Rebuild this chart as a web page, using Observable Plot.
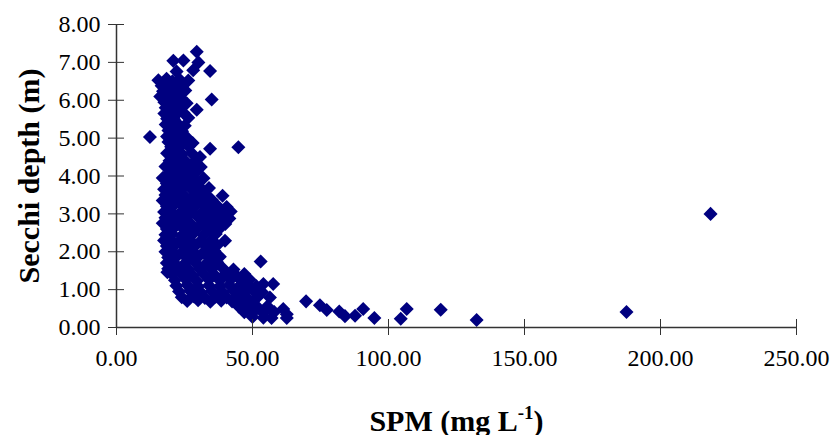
<!DOCTYPE html>
<html><head><meta charset="utf-8">
<script src="https://cdn.jsdelivr.net/npm/d3@7"></script>
<script src="https://cdn.jsdelivr.net/npm/@observablehq/plot@0.6"></script>
<style>body{margin:0;background:#fff} svg{display:block}</style>
</head><body><div id="chart"></div>
<script>
// [SPM (mg/L), Secchi depth (m)]
const clusterUpper = [
[29.5,7.28],[20.9,7.04],[24.6,7.05],[30.1,7.0],
[22.1,6.76],[28.2,6.79],[34.4,6.77],
[15.4,6.53],[18.4,6.57],[20.6,6.5],[23.2,6.55],[26.4,6.52],
[16.6,6.38],[18.1,6.42],[21.6,6.36],[24.1,6.4],
[17.1,6.24],[19.6,6.27],[22.6,6.22],[25.3,6.26],
[16.1,6.1],[18.6,6.08],[21.1,6.12],[23.6,6.06],
[35.0,6.02],
[17.6,5.95],[20.1,5.93],[22.1,5.97],[25.8,5.92],
[18.1,5.8],[20.6,5.82],[23.1,5.78],
[29.5,5.75],
[17.6,5.65],[19.6,5.66],[22.1,5.63],[24.6,5.67],
[18.6,5.51],[21.1,5.5],[26.4,5.54],
[18.1,5.36],[20.1,5.34],[22.6,5.37],[25.1,5.33],
[19.1,5.2],[21.6,5.22],[24.1,5.18],
[12.3,5.03],[18.6,5.04],[20.6,5.02],[23.1,5.05],[26.1,5.0],
[19.1,4.9],[22.1,4.88],[24.6,4.91],[28.0,4.87],
[44.8,4.76],[20.1,4.77],[23.1,4.75],[26.6,4.78],[34.4,4.72],
[18.6,4.6],[21.1,4.62],[24.1,4.58],[27.6,4.61],
[30.7,4.5]
];
const clusterMiddle = [
[19.5,4.4],[22.0,4.42],[25.5,4.38],[29.0,4.4],
[18.0,4.25],[21.0,4.27],[24.0,4.23],[27.0,4.26],[31.0,4.24],
[19.5,4.1],[23.0,4.12],[26.0,4.08],[29.5,4.11],
[17.0,3.95],[20.5,3.97],[24.5,3.93],[28.0,3.96],[32.0,3.94],
[18.5,3.8],[22.0,3.82],[26.0,3.78],[30.0,3.81],
[17.5,3.65],[20.0,3.67],[23.5,3.63],[27.5,3.66],[31.5,3.64],[34.0,3.68],
[18.0,3.5],[21.5,3.52],[25.0,3.48],[29.0,3.51],[33.0,3.49],[39.0,3.48],
[17.0,3.35],[19.5,3.37],[23.0,3.33],[27.0,3.36],[31.0,3.34],[35.0,3.37],
[18.5,3.2],[21.0,3.22],[25.0,3.18],[29.0,3.21],[33.0,3.19],[37.0,3.22],[40.5,3.18],
[17.5,3.05],[20.0,3.07],[23.5,3.03],[27.5,3.06],[31.5,3.04],[35.5,3.07],[39.0,3.03],[42.0,3.06],
[18.0,2.9],[21.5,2.92],[25.5,2.88],[30.0,2.91],[34.0,2.89],[38.0,2.92],[41.5,2.88],
[17.0,2.75],[19.5,2.77],[23.0,2.73],[27.0,2.76],[32.0,2.74],[36.0,2.77],[40.0,2.73],
[18.5,2.6],[21.0,2.62],[25.0,2.58],[29.5,2.61],[34.0,2.59],[38.0,2.62],
[18.0,2.45],[20.5,2.47],[24.0,2.43],[28.0,2.46],[32.0,2.44],[36.5,2.47],
[17.5,2.3],[20.0,2.32],[23.0,2.28],[27.0,2.31],[31.0,2.29],[35.0,2.32],[39.9,2.29],
[18.5,2.15],[21.5,2.17],[25.0,2.13],[29.0,2.16],[33.0,2.14],[37.0,2.17],
[18.0,2.0],[20.5,2.02],[24.0,1.98],[28.0,2.01],[32.0,1.99],[36.0,2.02],
[19.0,1.85],[22.0,1.87],[26.0,1.83],[30.0,1.86],[34.0,1.84],[38.0,1.87],
[18.5,1.7],[21.0,1.72],[25.0,1.68],[29.0,1.71],[33.0,1.69],[37.0,1.72],[53.0,1.74],
[19.0,1.55],[22.5,1.57],[26.5,1.53],[30.5,1.56],[35.0,1.54],[39.0,1.57],[43.0,1.53]
];
const clusterLower = [
[18.7,1.46],
[20.5,1.4],[24.0,1.42],[28.0,1.38],[32.0,1.41],[36.0,1.39],[40.0,1.42],[44.0,1.38],[47.0,1.41],
[21.5,1.25],[25.5,1.27],[29.5,1.23],[34.0,1.26],[38.0,1.24],[42.0,1.27],[46.0,1.23],[49.0,1.26],
[54.0,1.15],[57.6,1.15],
[22.0,1.1],[26.0,1.12],[30.0,1.08],[34.0,1.11],[38.0,1.09],[41.5,1.12],[45.0,1.08],[48.5,1.11],[51.5,1.09],
[23.0,0.95],[27.0,0.97],[31.0,0.93],[35.0,0.96],[39.0,0.94],[43.0,0.97],[47.0,0.93],[50.5,0.96],[53.5,0.94],
[24.0,0.8],[28.5,0.82],[32.5,0.78],[36.5,0.81],[40.5,0.79],[44.5,0.82],[48.0,0.78],[52.0,0.81],[56.4,0.79],
[26.0,0.7],[30.0,0.72],[34.5,0.68],[38.5,0.71],[42.5,0.69],[46.5,0.72],[50.0,0.68],
[45.0,0.55],[48.5,0.57],[52.0,0.53],[55.5,0.56],
[61.3,0.49],
[47.0,0.4],[50.5,0.42],[54.0,0.38],[58.0,0.41],[62.6,0.35],
[50.0,0.28],[54.0,0.26],[57.0,0.25],[62.6,0.25]
];
const tail = [
[69.7,0.69],[74.8,0.59],[77.3,0.46],[81.9,0.42],[84.0,0.30],[87.7,0.31],[90.7,0.49],
[94.8,0.25],[104.5,0.23],[106.7,0.49],[119.2,0.47],[132.4,0.2],[187.5,0.41],[218.4,3.0]
];
const xTicks = [0, 50, 100, 150, 200, 250];
const yTicks = [0, 1, 2, 3, 4, 5, 6, 7, 8];
const xTitle = "SPM (mg L-1)";
const yTitle = "Secchi depth (m)";

const data = [...clusterUpper, ...clusterMiddle, ...clusterLower, ...tail]
  .map(([spm, secchi]) => ({spm, secchi}));

const axisColor = "#333";
const fmt = d => d.toFixed(2);

const chart = Plot.plot({
  width: 833, height: 435,
  marginLeft: 116, marginRight: 37, marginTop: 24, marginBottom: 108,
  style: {fontFamily: "'Liberation Serif','Times New Roman',serif", fontSize: "24px", background: "#fff", color: "#000"},
  x: {domain: [0, 250], label: null},
  y: {domain: [0, 8], label: null},
  marks: [
    Plot.dot(data, {x: "spm", y: "secchi", symbol: "square", rotate: 45, r: 5.6, fill: "#000080", stroke: "none"}),
    Plot.ruleY([0], {stroke: axisColor, strokeWidth: 1.5}),
    Plot.ruleX([0], {stroke: axisColor, strokeWidth: 1.5}),
    Plot.axisX({ticks: xTicks, tickSize: 16, dy: -8, tickFormat: () => "", stroke: axisColor, label: null}),
    Plot.axisY({ticks: yTicks, tickSize: 16, dx: 8, tickFormat: () => "", stroke: axisColor, label: null}),
    Plot.axisX({ticks: xTicks, tickSize: 0, tickPadding: 21, tickFormat: fmt, fontSize: 24, label: null}),
    Plot.axisY({ticks: yTicks, tickSize: 0, tickPadding: 16, tickFormat: fmt, fontSize: 24, label: null}),
    Plot.text([xTitle], {text: d => d, frameAnchor: "bottom", textAnchor: "middle", dy: 103, fontSize: 30, fontWeight: "bold"}),
    Plot.text([yTitle], {text: d => d, frameAnchor: "left", textAnchor: "middle", dx: -87, rotate: -90, fontSize: 30, fontWeight: "bold"})
  ]
});
document.getElementById("chart").appendChild(chart);

// superscript for the unit exponent
d3.select(chart).selectAll("text").filter(function() { return this.textContent === xTitle; })
  .each(function() {
    const t = d3.select(this);
    t.text(null);
    t.append("tspan").text("SPM (mg L");
    t.append("tspan").attr("dy", "-12").attr("font-size", "19").text("-1");
    t.append("tspan").attr("dy", "12").text(")");
  });
</script>
</body></html>
